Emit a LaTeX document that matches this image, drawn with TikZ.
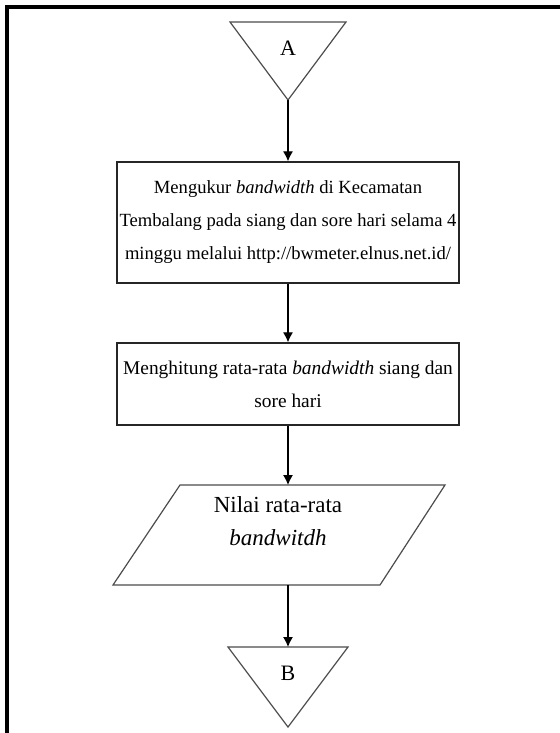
\documentclass[tikz,border=0pt]{standalone}
\usepackage{fontspec}
\setmainfont{Liberation Serif}
\usetikzlibrary{arrows.meta}

\begin{document}
\begin{tikzpicture}[x=0.5pt,y=-0.5pt,
    font=\fontsize{9.7}{16.5}\selectfont,
    proc/.style={draw=black!85,line width=0.65pt,minimum width=171pt,align=center,inner sep=0pt},
    conn/.style={draw=black!70,line width=0.6pt},
    arr/.style={-{Latex[length=5pt,width=5pt]},line width=0.6pt}]
\useasboundingbox (0,0) rectangle (560,733);
% frame
\draw[line width=2.2pt] (5,7) -- (560,7);
\draw[line width=2.2pt] (7,5) -- (7,733);
% connector A
\draw[conn] (230,22) -- (346,22) -- (288,100) -- cycle;
\node[font=\fontsize{11}{13}\selectfont] (A) at (288,48) {A};
\coordinate (Atip) at (288,100);
\node[proc,minimum height=60.5pt,font=\fontsize{9.3}{16.5}\selectfont] (ukur) at (288,222.5)
    {Mengukur \textit{bandwidth} di Kecamatan\\Tembalang pada siang dan sore hari selama 4\\minggu melalui http://bwmeter.elnus.net.id/};
\node[proc,minimum height=41pt] (hitung) at (288,384)
    {Menghitung rata-rata \textit{bandwidth} siang dan\\sore hari};
% data
\draw[conn] (180,485) -- (445,485) -- (380,585) -- (113,585) -- cycle;
\coordinate (Ptop) at (288,485);
\coordinate (Pbot) at (288,585);
\node[align=center,font=\fontsize{11.5}{16.5}\selectfont] (nilai) at (278,521) {Nilai rata-rata\\\textit{bandwitdh}};
% connector B
\draw[conn] (228,647) -- (348,647) -- (288,727) -- cycle;
\node[font=\fontsize{11}{13}\selectfont] (B) at (288,673) {B};
\coordinate (Btop) at (288,647);
\draw[arr] (Atip) -- (ukur);
\draw[arr] (ukur) -- (hitung);
\draw[arr] (hitung) -- (Ptop);
\draw[arr] (Pbot) -- (Btop);
\end{tikzpicture}
\end{document}
